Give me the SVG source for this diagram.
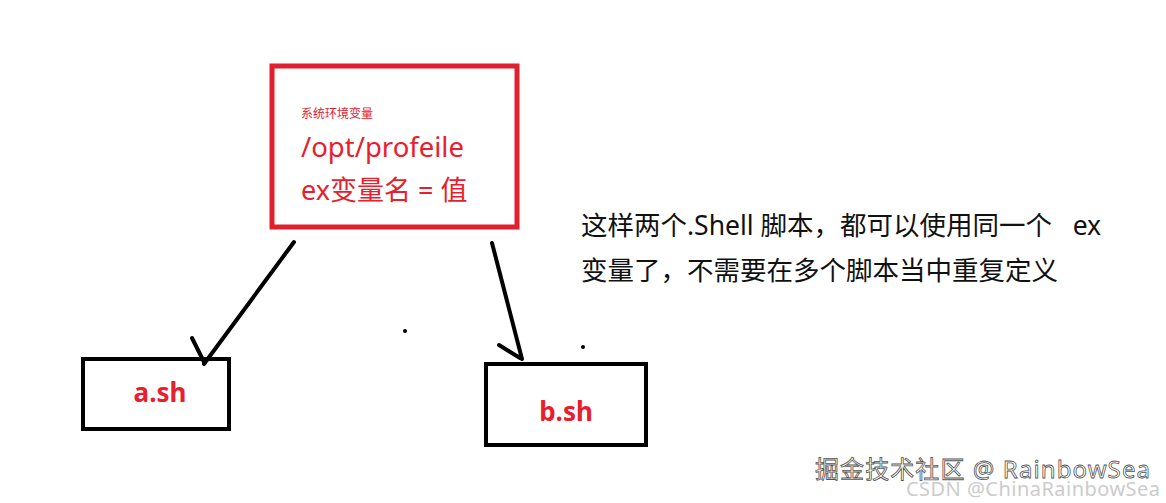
<svg xmlns="http://www.w3.org/2000/svg" width="1166" height="503" viewBox="0 0 1166 503">
<style>
.cn{font-family:"Microsoft YaHei","Noto Sans","Noto Sans CJK SC",sans-serif}
.red{fill:#e8202e}
.box{fill:none;stroke:#000;stroke-width:4}
.con{stroke:#000;stroke-width:4;stroke-linecap:round;fill:none}
</style>
<rect width="1166" height="503" fill="#fff"/>
<g id="env">
<rect x="272" y="66" width="245" height="161" fill="none" stroke="#e0202d" stroke-width="5"/>
<text class="cn red" x="301" y="118" font-size="12">系统环境变量</text>
<text class="cn red" x="301" y="157" font-size="27.5">/opt/profeile</text>
<text class="cn red" x="301" y="200" font-size="27" xml:space="preserve">ex变量名 = 值</text>
</g>
<g id="a">
<rect class="box" x="83" y="359" width="146" height="70"/>
<text class="cn red" x="160" y="402" font-size="26" font-weight="bold" text-anchor="middle">a.sh</text>
</g>
<g id="b">
<rect class="box" x="486" y="364" width="160" height="81"/>
<text class="cn red" x="566" y="421" font-size="26" font-weight="bold" text-anchor="middle">b.sh</text>
</g>
<g id="connectors">
<path class="con" d="M294 242 L204 364 M192 338 L204 362"/>
<path class="con" d="M492 243 L522 359 M499 345 L520 358"/>
</g>
<g id="dots">
<circle cx="405" cy="331" r="2"/>
<circle cx="583" cy="347" r="2"/>
</g>
<g id="note">
<text class="cn" x="581" y="235" font-size="26.5" fill="#111" xml:space="preserve">这样两个.Shell 脚本，都可以使用同一个   ex</text>
<text class="cn" x="581" y="280" font-size="26.5" fill="#111">变量了，不需要在多个脚本当中重复定义</text>
</g>
<g id="watermark">
<text class="cn" x="906" y="496" font-size="20" fill="#cccccc" textLength="254">CSDN @ChinaRainbowSea</text>
<text class="cn" x="815" y="478" font-size="24" fill="#fff" stroke="#555" stroke-width="0.8" textLength="335">掘金技术社区 @ RainbowSea</text>
</g>
</svg>
